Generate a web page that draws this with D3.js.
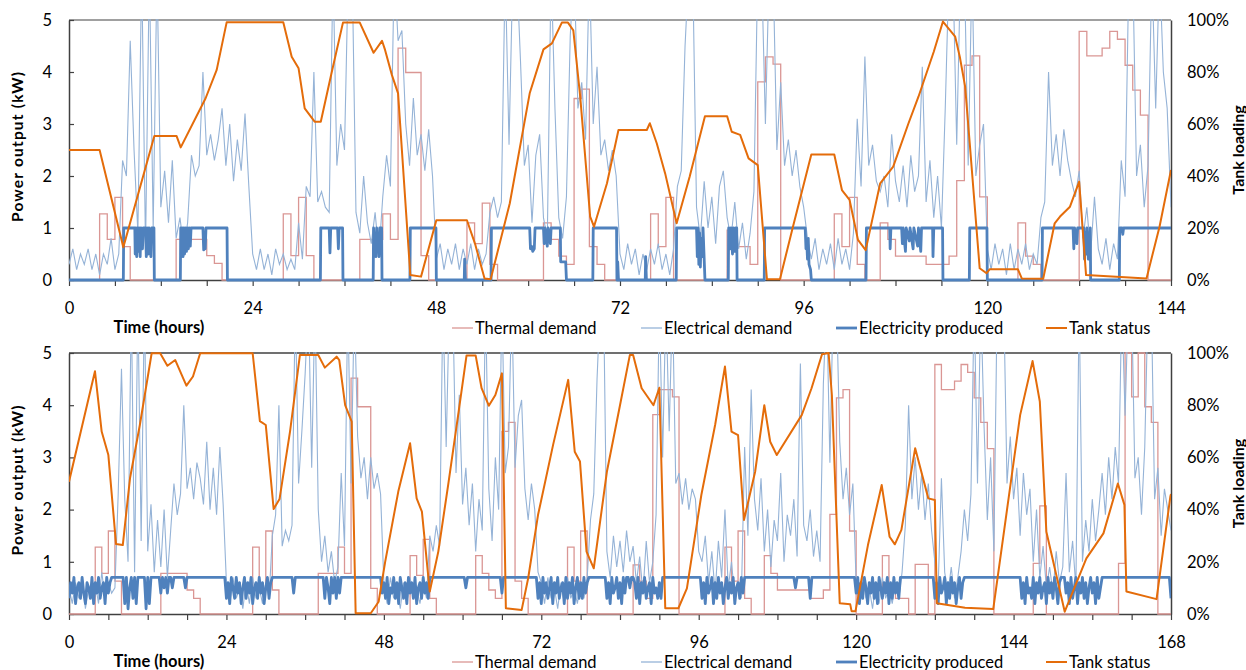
<!DOCTYPE html>
<html>
<head>
<meta charset="utf-8">
<script src="https://cdn.jsdelivr.net/npm/d3@7"></script>
<style>
  body { margin: 0; background: #fff; }
  svg text { font-family: Lato, "Open Sans", "Liberation Sans", sans-serif; fill: #000; }
</style>
</head>
<body>
<div id="chart"></div>
<script>
// ---- data ----
const hoursTop = 144;
const hoursBottom = 168;
const xLabelStep = 24;
const leftTicks = [0, 1, 2, 3, 4, 5];
const rightTicks = [0, 20, 40, 60, 80, 100];
const legendLabels = ["Thermal demand", "Electrical demand", "Electricity produced", "Tank status"];

// thermal demand, step function [hour, kW]
const thermalTop = [[0,0],[4,1.27],[5,0.78],[6,1.59],[7,0.64],[8,0],[14,0.78],[18,0.47],[19,0.32],[20,0],
  [28,1.27],[29,0.47],[30,1.59],[31,0.47],[32,0],[38,0.78],[41,1.27],[42,0.78],[43,4.46],[44,3.99],[46,0.47],[47,0],
  [52,1.1],[53,0.7],[54,1.48],[55,0.3],[56,0],[62,1.1],[63,0.78],[64,0.46],[65,0.3],[66,3.49],[67,3.67],[68,0.64],[69,0.3],[70,0],
  [76,1.27],[77,0.64],[78,1.59],[79,0],[86,0.96],[87,0.64],[89,0.3],[90,3.81],[91,4.29],[92,4.15],[93,0],
  [100,1.27],[101,0.64],[102,1.59],[103,0.3],[104,0],[106,1.1],[107,0.78],[108,0.46],[112,0.3],[115,0.46],[116,1.91],[117,4.13],[118,4.31],[119,1.6],[120,0],
  [124,1.1],[125,0.46],[126,0.3],[127,0],[132,4.78],[133,4.31],[135,4.46],[136,4.78],[137,4.63],[138,4.13],[139,3.65],[140,3.17],[141,0],[144,0]];

const thermalBottom = [[0,0],[4,1.28],[5,0.78],[6,1.59],[7,0.63],[8,0],[14,0.78],[18,0.46],[19,0.3],[20,0],
  [28,1.28],[29,0.46],[30,1.59],[31,0.46],[32,0],[38,0.78],[41,1.28],[42,0.78],[43,4.52],[44,3.97],[46,0.49],[47,0],
  [52,1.12],[53,0.74],[54,1.43],[55,0.3],[56,0],[62,1.12],[63,0.78],[64,0.46],[65,0.3],[66,3.5],[67,3.67],[68,0.63],[69,0.3],[70,0],
  [76,1.28],[77,0.63],[78,1.59],[79,0],[86,0.94],[87,0.63],[88,0.3],[89,3.82],[90,4.3],[92,4.16],[93,0],
  [100,1.28],[101,0.63],[102,1.59],[103,0.3],[104,0],[106,1.12],[107,0.78],[108,0.46],[113,0.3],[115,0.46],[116,1.91],[117,4.14],[118,4.3],[119,1.59],[120,0],
  [124,1.12],[125,0.46],[126,0.3],[128,0],[129,0.95],[131,0],[132,4.78],[133,4.3],[135,4.46],[136,4.78],[137,4.63],[138,4.14],[139,3.67],[140,3.17],[141,0],
  [147,0.97],[148,2.07],[149,0],[160,0.97],[161,5.0],[162,4.16],[163,5.0],[164,3.97],[165,3.67],[166,0],[168,0]];

// electrical demand, tenths of kW, one value every half hour
const elecTopTenths = [
  3,6,2,5,3,6,2,5,1,5,3,8,   2,5,23,20,46,25,9,60,6,60,10,60,
  14,21,11,23,8,12,6,11,24,20,22,40,   24,28,23,27,33,22,30,19,27,21,32,18,
  5,2,6,2,5,1,6,3,5,2,4,2,   11,4,18,16,40,15,17,14,13,60,22,30,
  25,60,60,13,9,20,11,7,13,5,16,24,   18,60,46,48,30,22,35,24,28,21,29,20,
  4,7,2,6,3,7,2,6,3,7,2,6,   3,5,13,16,12,15,60,26,60,60,42,22,
  26,11,24,28,12,8,60,33,12,8,16,47,   60,33,38,27,60,30,41,24,27,21,25,20,
  5,2,7,3,6,1,5,2,6,3,7,2,   5,1,6,18,21,45,60,60,14,8,19,10,
  16,7,18,21,12,8,15,6,11,4,9,17,   60,60,30,60,60,25,38,22,27,20,25,18,
  14,8,4,8,2,6,3,7,2,8,3,6,   2,9,31,18,43,22,26,19,17,20,14,28,
  19,15,22,14,24,17,20,41,15,23,12,20,   10,33,60,60,26,60,60,22,60,20,26,30,
  6,2,7,3,6,1,7,2,6,3,7,2,   5,3,12,15,40,22,28,20,29,23,19,16,
  21,8,14,5,16,6,3,8,2,7,4,23,   16,60,60,20,26,14,22,60,33,60,40,33,
  14];

const elecBottomTenths = [
  5,2,6,3,7,1,5,3,6,2,8,3,   6,4,5,23,47,22,10,60,8,60,14,60,
  12,21,8,18,9,20,7,16,25,19,23,40,   24,28,22,29,26,21,33,20,28,19,32,21,
  6,2,7,3,5,1,6,2,7,3,5,2,   6,3,15,19,40,13,16,14,17,60,25,35,
  46,60,28,60,20,10,15,8,12,6,9,27,   13,60,25,60,34,26,30,22,30,24,27,23,
  6,2,7,3,5,1,6,2,7,3,5,2,   6,3,15,12,17,13,60,32,60,60,27,42,
  21,28,17,25,12,22,16,60,24,14,30,20,   60,27,32,60,28,38,41,24,18,25,20,8,
  6,2,7,3,5,1,6,2,7,3,5,2,   6,3,7,18,23,45,60,60,12,7,15,9,
  14,8,16,10,13,6,11,4,14,6,10,19,   60,30,60,35,60,25,27,21,26,20,24,22,
  12,10,15,6,12,4,14,7,20,5,10,3,   6,3,32,15,43,22,16,26,12,20,9,18,
  14,27,10,19,15,22,11,48,17,14,20,11,   16,10,44,60,29,60,60,33,22,28,19,25,
  6,2,7,3,5,1,6,2,7,3,5,2,   6,3,8,17,40,22,30,20,27,18,25,16,
  10,5,26,8,4,9,3,7,12,20,14,23,   60,25,60,36,18,30,12,60,60,60,25,34,
  22,28,15,27,19,24,10,20,7,13,5,9,   4,12,6,9,27,8,14,5,60,10,18,12,
  22,14,20,27,19,30,22,32,25,60,38,60,   60,26,30,19,32,60,60,22,28,15,24,20,
  16];

// electricity produced, top week: [hour, kW]
const producedTop = [[0,0],[7.1,0],[7.15,1],[8.6,1],[8.65,0.5],[8.75,1],[8.85,0.45],[8.95,1],[9.05,0.55],[9.15,1],[9.3,0.45],[9.4,1],
  [9.6,0.6],[9.7,1],[10.0,1],[10.1,0.45],[10.2,1],[10.35,0.5],[10.45,1],[10.7,0.45],[10.8,1],[11.1,1],[11.15,0],
  [14.55,0],[14.6,1],[14.7,0.5],[14.8,1],[14.9,0.45],[15.0,1],[15.1,0.5],[15.2,1],[15.35,0.55],[15.45,1],[15.6,0.6],[15.7,1],[15.85,0.65],[15.95,1],
  [17.5,1],[17.6,0.58],[17.7,0.85],[17.8,0.6],[17.9,1],[20.65,1],[20.7,0],
  [32.85,0],[32.9,1],[34.0,1],[34.1,0.52],[34.2,1],[35.1,1],[35.2,0.6],[35.3,1],[35.75,1],[35.8,0],
  [39.75,0],[39.8,1],[39.9,0.5],[40.0,0.9],[40.1,0.45],[40.2,1],[40.3,0.55],[40.4,0.8],[40.5,0.45],[40.6,1],[40.85,1],[40.9,0],
  [44.55,0],[44.6,1],[47.95,1],[48.0,0],[51.65,0],[51.7,0.4],[51.8,0],[55.15,0],[55.2,1],
  [60.2,1],[60.3,0.6],[60.45,0.65],[60.6,0.55],[60.8,0.6],[60.9,1],[62.0,1],[62.1,0.7],[62.2,1],[62.5,0.65],[62.6,1],[62.9,0.7],[63.0,1],
  [64.2,1],[64.25,0.35],[64.9,0.35],[65.0,0],
  [68.45,0],[68.5,1],[71.55,1],[71.6,0],[71.7,0.35],[71.8,0],[75.3,0],[75.35,0.45],[75.45,0],
  [79.35,0],[79.4,1],[82.0,1],[82.1,0.45],[82.2,1],[82.3,0.3],[82.4,0.9],[82.5,0.25],[82.6,0.8],[82.75,0.45],[82.85,1],[83.0,0.4],[83.1,0],
  [86.15,0],[86.2,1],[86.4,0.6],[86.5,1],[86.7,0.5],[86.8,1],[87.0,0.55],[87.1,1],[87.25,1],[87.3,0],
  [90.85,0],[90.9,1],[96.2,1],[96.3,0.6],[96.4,0.75],[96.5,0.4],[96.6,0.8],[96.7,0.3],[96.9,0.2],[97.0,0],
  [104.15,0],[104.2,1],[107.25,1],[107.3,0.6],[107.4,1],[108.8,1],[108.9,0.7],[109.0,1],[109.3,0.55],[109.4,1],[109.8,0.75],[109.9,1],
  [110.3,0.6],[110.4,1],[110.9,0.65],[111.0,1],[111.3,0.55],[111.4,1],[112.85,1],[112.9,0.45],[113.0,1],[114.15,1],[114.2,0],
  [117.65,0],[117.7,1],[119.95,1],[120.0,0],
  [127.15,0],[127.2,1],[131.2,1],[131.3,0.6],[131.4,1],[131.7,0.7],[131.8,1],[132.6,1],[132.7,0.4],[132.8,0.9],[132.9,0.5],[133.0,1],
  [133.2,0.4],[133.3,0.8],[133.45,1],[133.5,0],
  [137.25,0],[137.3,1],[137.6,1],[137.7,0.88],[137.8,1],[144,1]];

// electricity produced, bottom week: tenths of kW, one value every quarter hour
const producedBottomTenths = [
  3,6,4,7,2,5,6,3,7,4,2,6,5,3,7,2,6,4,7,3,5,6,2,7,
  4,6,7,7,7,7,7,7,7,7,2,7,1,5,7,3,7,2,7,7,7,7,7,1,
  7,2,7,7,7,7,7,7,4,7,5,7,4,7,7,5,7,7,7,7,7,7,7,5,
  7,7,7,7,7,7,7,7,7,7,7,7,7,7,7,7,7,7,7,7,7,7,7,7,
  3,6,2,7,5,3,7,4,6,2,5,7,3,6,4,7,2,5,6,3,7,4,6,2,
  5,7,3,6,7,7,7,7,7,7,7,7,7,7,7,7,7,4,7,7,7,7,7,7,
  7,7,7,7,7,7,7,7,7,7,7,7,3,7,5,2,7,4,7,3,7,4,7,7,
  7,7,7,7,7,7,7,7,7,7,7,7,7,7,7,7,7,7,7,7,7,7,7,4,
  6,3,7,2,5,4,7,3,6,2,7,5,3,6,2,7,4,6,3,7,2,5,6,3,
  7,4,6,3,7,7,7,7,7,7,7,7,7,7,7,7,7,7,7,7,7,7,7,7,
  7,7,5,7,7,7,7,7,7,7,7,7,7,7,7,7,7,7,7,7,7,7,7,7,
  4,7,7,7,7,7,7,7,7,7,7,7,7,7,7,7,7,7,7,7,7,7,3,6,
  2,7,4,6,3,5,7,2,6,4,7,3,5,6,2,7,3,6,4,7,2,5,7,3,
  6,3,7,4,6,7,7,7,7,7,7,7,7,7,7,7,3,6,2,7,4,5,7,3,
  6,2,7,4,7,7,5,7,7,6,3,7,2,6,4,7,3,5,6,2,7,4,5,3,
  6,3,7,7,7,7,7,7,7,7,7,7,7,7,7,7,7,7,7,7,7,7,7,7,
  7,7,3,6,2,7,4,5,7,2,6,3,7,4,6,2,5,7,3,6,4,7,2,5,
  6,3,7,4,7,7,7,7,7,7,7,7,7,7,7,7,7,7,7,7,7,7,7,7,
  7,7,7,7,7,7,7,7,7,7,7,5,7,7,7,7,7,7,7,7,3,7,7,7,
  7,7,7,7,7,7,7,7,7,7,7,7,7,7,7,7,7,7,7,7,7,7,7,7,
  4,7,2,6,3,7,5,2,6,4,7,3,6,2,7,5,3,6,4,7,2,6,3,7,
  4,6,3,7,7,7,7,7,7,7,7,7,7,7,7,7,7,7,7,7,7,7,7,7,
  3,6,2,7,4,5,7,2,6,3,7,4,6,2,5,7,3,6,7,7,7,7,7,7,
  7,7,7,7,7,7,7,7,7,7,7,7,7,7,7,7,7,7,7,7,7,7,7,7,
  7,7,7,7,7,3,6,2,7,4,5,3,7,2,6,4,7,3,5,6,2,7,4,6,
  3,7,5,2,6,7,7,7,4,6,2,7,3,5,7,2,6,4,7,3,6,2,5,7,
  4,6,2,7,3,5,7,7,7,7,7,7,7,7,7,7,7,7,7,7,7,7,7,7,
  7,7,7,7,7,7,7,7,7,7,7,7,7,7,7,7,7,7,7,7,7,7,7,7,
  3];

// tank status [hour, %]
const tankTop = [[0,50],[4,50],[7.1,12.6],[11.15,55.4],[14.05,55.4],[14.6,51],[17.85,69.9],[19.3,80.8],[20.6,99.1],[28,99.1],
  [29.1,85.9],[30,81.4],[30.8,66],[32.1,60.9],[32.9,60.9],[34.3,79.5],[35.8,99],[38,99],[39.8,87.4],[40.9,92],[41.3,88.5],[42.2,78.8],[43,71.8],
  [44.6,1.9],[46,1.3],[48,23],[52,23],[53.05,14],[54.3,0.6],[55.1,0.3],[57.6,29.5],[60.2,71.8],[62,88.7],[63.1,91],[64.4,99],[65.2,99],[65.9,96],
  [66.8,70.5],[68.1,24.4],[68.6,20.5],[70.3,37.2],[71.8,57.7],[75.5,57.7],[75.9,60.3],[76.8,52.6],[77.9,41],[79.4,21.8],[81.1,39.7],[83.1,63],
  [86,63],[86.6,57],[87.7,55.8],[88.8,46.8],[90,44.2],[91.2,0.3],[92.9,0.3],[94.6,20.5],[97,48.3],[100,48.3],[101,34.6],[102,30.8],[103.1,15.4],
  [104.1,11.5],[106,37.2],[107.7,43.6],[109.7,60.3],[111,70.5],[113,87.8],[114.2,99.4],[115.8,93.6],[116.4,85.9],[117.1,74.4],[117.7,52.6],
  [119,4.5],[119.9,2.6],[120.3,4.1],[124,4.1],[124.5,0.6],[127.3,0.5],[128.8,21.8],[129.5,24.4],[130.8,28.2],[132,37.8],[132.9,1.9],
  [140.8,0.6],[142.5,20.5],[144,42.3]];

const tankBottom = [[0,50.7],[3.96,93],[4.98,69.9],[6,60.9],[7.17,26.8],[8.2,26.4],[9.3,52],[10.8,72.4],[12.6,99.9],[13.9,99.9],[15,95.1],
  [16.2,97.3],[17.9,87.5],[18.9,91],[20,99.9],[28,99.9],[29.1,73.9],[30,72.4],[31.2,40.2],[32.1,44.1],[33.7,70],[35.2,99.2],[38,99.2],
  [39,94.4],[40.8,98.6],[41.2,97.3],[42.1,80],[43.1,73.7],[43.7,0.3],[46,0.3],[47.2,4.7],[48.2,20],[50.2,46.9],[52,65.4],[53,44.3],[53.8,39.2],
  [55,8.6],[56.3,23.9],[57.8,49.4],[59.4,77.5],[60.6,99],[62,99],[62.9,86.5],[64,79.8],[65,83.9],[66,92.2],[66.6,2.2],[69,1.5],[70,13.7],
  [71.5,37.9],[73.8,64.8],[76.1,89.7],[77.1,62.2],[77.9,58.4],[78.9,23.9],[80,17.5],[82,54.5],[84,80],[85.5,99.2],[86,99.2],[87.3,86.5],
  [89.1,80],[90,86.7],[90.9,2.2],[92.9,2.2],[94.2,9.8],[96.4,45.6],[98.5,72.4],[100,94.8],[101,69.9],[102,68.5],[102.9,36],[104.6,54.5],
  [106,80],[106.9,66],[107.9,60.9],[111.7,76.2],[113.2,86.5],[114.8,99.5],[115.8,100],[116.3,83.9],[117.5,4.1],[119.1,3.7],[119.3,1.1],
  [119.9,1.1],[121.8,26.4],[123.9,49.4],[125.1,29.6],[125.9,26.7],[126.9,32.2],[129,63.5],[131,44.3],[132,43.7],[132.3,4.1],[136.6,2.4],
  [140.9,1.9],[145,76.2],[146.9,96.9],[148,81.4],[149,31.5],[151.8,0.9],[155.1,21.3],[157.7,30.9],[159.9,50],[160.9,41.8],[161.2,8.6],
  [165.8,5.7],[167.9,45],[168,46]];

// ---- chart ----
const W = 1246, H = 670;
const plotLeft = 69, plotRight = 1171;
const colors = { thermal: "#DA9694", elec: "#95B3D7", produced: "#4F81BD", tank: "#E46C0A" };
const fontSize = "16.5px";

const svg = d3.select("#chart").append("svg")
  .attr("width", W)
  .attr("height", H);

function panel(p) {
  const x = d3.scaleLinear().domain([0, p.hours]).range([plotLeft, plotRight]);
  const y = d3.scaleLinear().domain([0, 5]).range([p.bottom, p.top]);
  const yR = d3.scaleLinear().domain([0, 100]).range([p.bottom, p.top]);

  // frame
  svg.append("line")
    .attr("x1", plotLeft).attr("x2", plotRight)
    .attr("y1", p.top).attr("y2", p.top)
    .attr("stroke", p.frameColor).attr("stroke-width", 1.5);

  const xAxis = svg.append("g")
    .attr("transform", `translate(0,${p.bottom})`)
    .call(d3.axisBottom(x)
      .tickValues(d3.range(0, p.hours + 1, 6))
      .tickFormat(d => d % xLabelStep === 0 ? d : "")
      .tickSize(6).tickSizeOuter(0).tickPadding(16));
  const yAxis = svg.append("g")
    .attr("transform", `translate(${plotLeft},0)`)
    .call(d3.axisLeft(y).tickValues(leftTicks).tickFormat(d3.format("d"))
      .tickSize(-5).tickSizeOuter(0).tickPadding(17));
  const yAxisR = svg.append("g")
    .attr("transform", `translate(${plotRight},0)`)
    .call(d3.axisRight(yR).tickValues(rightTicks).tickFormat(d => d + "%").tickSize(0).tickPadding(16));

  [xAxis, yAxis, yAxisR].forEach(a => {
    a.select(".domain").attr("stroke", "#404040").attr("stroke-width", 1.5);
    a.selectAll(".tick line").attr("stroke", "#404040").attr("stroke-width", 1.2);
    a.selectAll("text").style("font-size", fontSize).attr("fill", "#000");
  });

  // titles
  svg.append("text")
    .attr("transform", `translate(18,${(p.top + p.bottom) / 2 - 3}) rotate(-90)`)
    .attr("dy", "0.35em").attr("text-anchor", "middle")
    .attr("textLength", 150).attr("lengthAdjust", "spacing")
    .style("font-size", "15.5px").style("font-weight", "bold")
    .text("Power output (kW)");
  svg.append("text")
    .attr("transform", `translate(1238,${(p.top + p.bottom) / 2}) rotate(-90)`)
    .attr("dy", "0.35em").attr("text-anchor", "middle")
    .style("font-size", "16px").style("font-weight", "bold")
    .text("Tank loading");
  svg.append("text")
    .attr("x", 159).attr("y", p.legendY + 5)
    .attr("text-anchor", "middle")
    .style("font-size", fontSize).style("font-weight", "bold")
    .text("Time (hours)");

  // series
  const clipId = "clip-" + p.name;
  svg.append("clipPath").attr("id", clipId)
    .append("rect")
    .attr("x", plotLeft).attr("y", p.top - 1)
    .attr("width", plotRight - plotLeft).attr("height", p.bottom - p.top + 3);
  const plot = svg.append("g").attr("clip-path", `url(#${clipId})`);

  const kwLine = d3.line().x(d => x(d[0])).y(d => y(d[1]));

  plot.append("path").datum(p.thermal)
    .attr("d", d3.line().curve(d3.curveStepAfter).x(d => x(d[0])).y(d => y(d[1])))
    .attr("fill", "none").attr("stroke", colors.thermal).attr("stroke-width", 1.3);

  plot.append("path").datum(p.elec)
    .attr("d", kwLine)
    .attr("fill", "none").attr("stroke", colors.elec).attr("stroke-width", 1.1);

  plot.append("path").datum(p.produced)
    .attr("d", kwLine)
    .attr("fill", "none").attr("stroke", colors.produced).attr("stroke-width", 2.8)
    .attr("stroke-linejoin", "round");

  plot.append("path").datum(p.tank)
    .attr("d", d3.line().x(d => x(d[0])).y(d => yR(d[1])))
    .attr("fill", "none").attr("stroke", colors.tank).attr("stroke-width", 2)
    .attr("stroke-linejoin", "round");

  // legend
  const legendItems = [
    { label: legendLabels[0], x: 452, color: colors.thermal, w: 1.3 },
    { label: legendLabels[1], x: 641, color: colors.elec, w: 1.3 },
    { label: legendLabels[2], x: 836, color: colors.produced, w: 2.8 },
    { label: legendLabels[3], x: 1046, color: colors.tank, w: 2 }
  ];
  const lg = svg.append("g");
  legendItems.forEach(it => {
    lg.append("line")
      .attr("x1", it.x).attr("x2", it.x + 21)
      .attr("y1", p.legendY).attr("y2", p.legendY)
      .attr("stroke", it.color).attr("stroke-width", it.w);
    lg.append("text")
      .attr("x", it.x + 23).attr("y", p.legendY + 5.5)
      .style("font-size", fontSize)
      .text(it.label);
  });
}

const elecTop = elecTopTenths.map((v, i) => [i * 0.5, v / 10]);
const elecBottom = elecBottomTenths.map((v, i) => [i * 0.5, v / 10]);
const producedBottom = producedBottomTenths.map((v, i) => [i * 0.25, v / 10]);

panel({ name: "top", hours: hoursTop, top: 20, bottom: 280, legendY: 328, frameColor: "#808080",
  thermal: thermalTop, elec: elecTop, produced: producedTop, tank: tankTop });
panel({ name: "bottom", hours: hoursBottom, top: 353, bottom: 614, legendY: 662, frameColor: "#404040",
  thermal: thermalBottom, elec: elecBottom, produced: producedBottom, tank: tankBottom });
</script>
</body>
</html>
